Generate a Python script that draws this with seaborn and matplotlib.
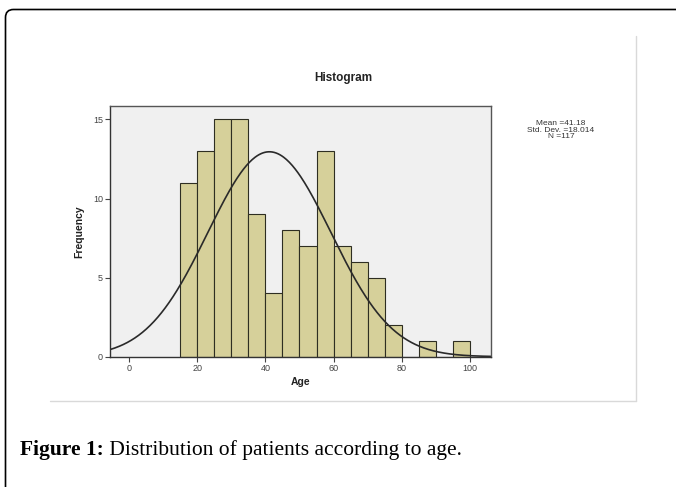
import numpy as np
import pandas as pd
import seaborn as sns
import matplotlib.pyplot as plt
from matplotlib.patches import FancyBboxPatch
from matplotlib.lines import Line2D

# Age histogram counts (bin width 5, starting at 15)
bin_starts = [15, 20, 25, 30, 35, 40, 45, 50, 55, 60, 65, 70, 75, 80, 85, 90, 95]
counts = [11, 13, 15, 15, 9, 4, 8, 7, 13, 7, 6, 5, 2, 0, 1, 0, 1]
bin_width = 5

# summary stats printed next to the chart
mean_age = 41.18
sd_age = 18.014
n_total = 117

x_ticks = [0, 20, 40, 60, 80, 100]
y_ticks = [0, 5, 10, 15]

sns.set_theme(style="white")
plt.rcParams["font.family"] = ["Liberation Sans", "DejaVu Sans"]

# bin midpoints with weights, so the histogram reproduces the counts
df = pd.DataFrame({"Age": [b + bin_width / 2 for b in bin_starts], "count": counts})

fig = plt.figure(figsize=(6.76, 4.87), dpi=100)
fig.patch.set_facecolor("white")

# outer rounded frame (cut by the figure edges on right / bottom)
frame = FancyBboxPatch((0.055, -0.5), 7.5, 4.775 + 0.5,
                       boxstyle="round,pad=0,rounding_size=0.08",
                       transform=fig.dpi_scale_trans, fill=False,
                       edgecolor="black", linewidth=1.2)
fig.add_artist(frame)

# faint border of the embedded chart image
W, H = 676, 487
fig.add_artist(Line2D([636 / W, 636 / W], [1 - 36 / H, 1 - 401 / H],
                      transform=fig.transFigure, color="#d9d9d9", lw=1))
fig.add_artist(Line2D([50 / W, 636 / W], [1 - 401 / H, 1 - 401 / H],
                      transform=fig.transFigure, color="#d9d9d9", lw=1))

ax = fig.add_axes([110 / W, 1 - 356.7 / H, (490.7 - 110) / W, (356.7 - 106) / H])
ax.set_facecolor("#f0f0f0")

sns.histplot(data=df, x="Age", weights="count", binwidth=bin_width,
             binrange=(bin_starts[0], bin_starts[-1] + bin_width), ax=ax,
             color="#d6d09a", edgecolor="#2e2e22", linewidth=0.8, alpha=1)

# fitted normal curve from the reported stats
xs = np.linspace(-5.5, 106, 400)
ys = n_total * bin_width * np.exp(-0.5 * ((xs - mean_age) / sd_age) ** 2) / (sd_age * np.sqrt(2 * np.pi))
sns.lineplot(x=xs, y=ys, ax=ax, color="#2a2a2a", linewidth=1.2)

ax.set_xlim(-5.5, 106)
ax.set_ylim(0, 15.85)
ax.set_xticks(x_ticks)
ax.set_yticks(y_ticks)
ax.tick_params(axis="both", direction="out", length=3.5, width=0.8,
               color="#444444", labelsize=6.5, labelcolor="#444444", pad=1.5,
               bottom=True, left=True)
for s in ax.spines.values():
    s.set_color("#555555")
    s.set_linewidth(1)
ax.spines["left"].set_color("#333333")
ax.spines["bottom"].set_color("#333333")

ax.set_xlabel("Age", fontsize=7.5, fontweight="bold", color="#222222", labelpad=3)
ax.set_ylabel("Frequency", fontsize=7.5, fontweight="bold", color="#222222", labelpad=6)

fig.text(343 / W, 1 - 78 / H, "Histogram", ha="center", va="center",
         fontsize=8.5, fontweight="bold", color="#222222")
fig.text(561 / W, 1 - 130 / H,
         f"Mean ={mean_age}\nStd. Dev. ={sd_age}\nN ={n_total}",
         ha="center", va="center", fontsize=6, color="#333333", linespacing=0.9)

# caption
cap = fig.text(20 / W, 1 - 455 / H, "Figure 1:", ha="left", va="baseline",
               fontsize=15.5, fontweight="bold", color="black",
               family=["Liberation Serif", "DejaVu Serif"])
ax.annotate(" Distribution of patients according to age.", xy=(1, 0), xycoords=cap,
            ha="left", va="bottom", fontsize=15.5, color="black",
            family=["Liberation Serif", "DejaVu Serif"], annotation_clip=False)

fig.savefig("out.png", dpi=100)
